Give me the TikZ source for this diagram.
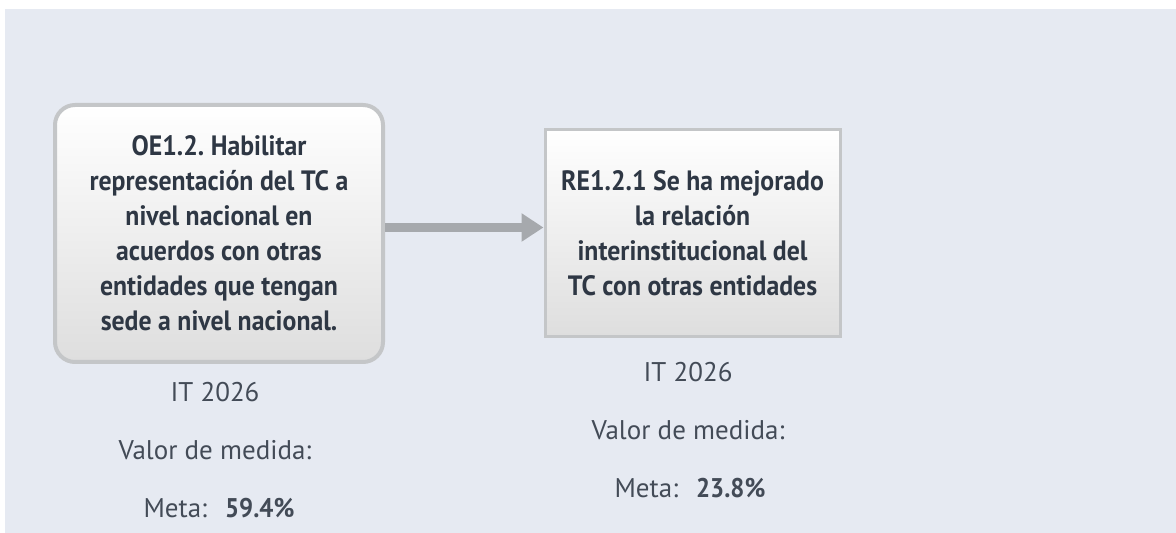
\documentclass[tikz,border=0pt]{standalone}
\usepackage{fontspec}
\setmainfont{PT Sans}[BoldFeatures={FakeStretch=0.92}]
\usetikzlibrary{positioning,arrows.meta}
\definecolor{fondo}{HTML}{E6EAF2}
\definecolor{borde}{HTML}{C4C6C8}
\definecolor{flecha}{HTML}{A6A9AD}
\definecolor{texto}{HTML}{2E3744}
\frenchspacing
\begin{document}
\begin{tikzpicture}[x=0.5pt,y=-0.5pt,
    caja/.style={draw=borde, top color=white, bottom color=black!13, text=texto,
      font=\bfseries\fontsize{14}{17.5}\selectfont, align=center, inner sep=0pt},
    dato/.style={text=texto!90, font=\fontsize{13.5}{16}\selectfont}]
  \useasboundingbox (0,0) rectangle (1176,533);
  \fill[white] (0,0) rectangle (1176,533);
  \fill[fondo] (5,9) rectangle (1176,533); % fondo
  % objetivo
  \node[caja, rounded corners=10pt, line width=2pt, minimum width=164pt, minimum height=128.5pt] (oe) at (219,233.5)
    {OE1.2. Habilitar\\ representación del TC a\\ nivel nacional en\\ acuerdos con otras\\ entidades que tengan\\ sede a nivel nacional.};
  \node[dato] (oeit) at (215,392) {IT 2026};
  \node[dato] (oevalor) at (215,450) {Valor de medida:};
  \node[dato] (oemeta) at (219,508) {Meta:\hspace{9pt}\textbf{59.4\%}};
  % resultado
  \node[caja, line width=1.5pt, minimum width=147.5pt, minimum height=103.5pt] (re) at (692.5,233.5)
    {RE1.2.1 Se ha mejorado\\ la relación\\ interinstitucional del\\ TC con otras entidades};
  \node[dato] (reit) at (688,372) {IT 2026};
  \node[dato] (revalor) at (688,430) {Valor de medida:};
  \node[dato] (remeta) at (690,488) {Meta:\hspace{9pt}\textbf{23.8\%}};
  % flecha
  \draw[flecha, line width=4.5pt, -{Triangle[length=11pt,width=13.5pt]}] ([yshift=3pt]oe.east) -- ([yshift=3pt]re.west);
\end{tikzpicture}
\end{document}
